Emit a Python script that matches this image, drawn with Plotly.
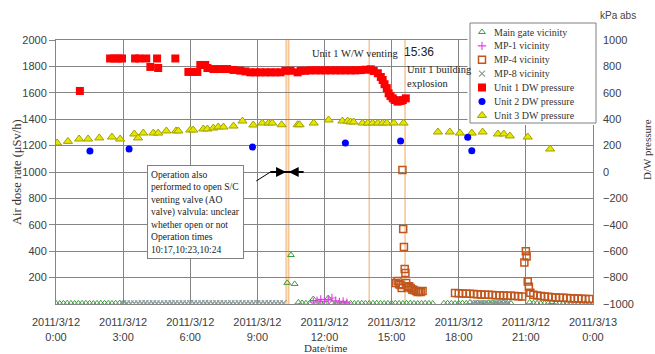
import pandas as pd
import plotly.graph_objects as go

DAY = "2011-03-12"
W, H = 655, 354


def at(hhmm):
    return f"{DAY} {hhmm}"


def every_10_min(start, values):
    return list(pd.date_range(at(start), periods=len(values), freq="10min"))


def gather(segments):
    xs, ys = [], []
    for start, vals in segments:
        xs += every_10_min(start, vals)
        ys += vals
    return xs, ys


# ---------------- air dose rate (μSv/h), left axis ----------------
MAIN_GATE_SEGMENTS = [
    ("00:00", [5, 4, 5, 6, 5, 4, 5, 5, 6, 5, 4, 5, 6, 5, 5, 4, 5, 6, 5]),
    ("10:20", [160, 371, 152, 12, 8, 6, 5, 38, 10, 6, 5, 45, 8, 5, 4, 5, 6, 5, 4, 5,
               6, 5, 4, 5, 6, 5, 4, 5, 5, 6, 5, 4, 5, 6, 5, 4, 5, 6, 5, 4]),
    ("17:20", [5, 6, 5, 4, 5, 6, 5, 12, 6, 5, 4, 5, 6, 5, 4, 5, 6, 5, 4]),
    ("21:10", [12, 6, 5, 4, 5, 6, 14, 6, 5, 4, 5, 6, 5, 4, 5, 6, 5, 4]),
]
MP1_SEGMENTS = [("11:30", [15, 25, 35, 20, 30, 45, 25, 15, 20, 10])]
MP8_SEGMENTS = [
    ("03:00", [5, 6, 5, 4, 5, 6, 7, 5, 6, 5, 4, 5, 6, 7, 6, 5, 6, 5, 7, 6, 5, 6,
               7, 6, 5, 6, 7, 6, 5, 6, 5, 7, 6, 5, 6, 7, 6, 5, 6, 7, 6, 5, 6, 7]),
    ("18:40", [6, 5, 7, 6, 5, 6, 7, 5, 6, 5]),
]
MP4_TIMES = ["15:11", "15:16", "15:20", "15:24", "15:27", "15:29", "15:31", "15:33",
             "15:35", "15:37", "15:39", "15:43", "15:47", "15:51", "15:55", "15:59",
             "16:05", "16:10", "16:14", "16:18", "16:23",
             "20:56", "21:00", "21:02", "21:05", "21:08", "21:12"]
MP4_VALUES = [159, 174, 150, 144, 121, 1015, 568, 432,
              265, 235, 159, 129, 135, 121, 110, 106,
              98, 91, 95, 91, 98,
              315, 400, 360, 170, 130, 85]
MP4_SEGMENTS = [
    ("17:50", [84, 82, 80, 78, 77, 75, 74, 72, 71, 70, 68, 67, 66, 64, 63, 62, 60, 58, 57]),
    ("21:20", [70, 64, 60, 57, 55, 52, 50, 48, 47, 45, 44, 42, 41, 40, 38, 37]),
]

# ---------------- D/W pressure (kPa abs), right axis ----------------
UNIT1_TIMES = ["01:04", "02:25", "02:36", "02:47", "02:57", "03:32", "03:43", "04:02",
               "04:13", "04:31", "04:34", "05:20", "05:55", "06:08", "06:19", "06:27",
               "06:40", "06:46", "07:02", "07:20", "07:39", "07:56", "08:14", "08:28",
               "08:41", "08:55", "09:08", "09:22", "09:35", "09:48", "10:02", "10:15",
               "10:29", "10:48", "10:56", "11:09", "11:22", "11:36", "11:49", "12:03",
               "12:16", "12:30", "12:43", "12:56", "13:10", "13:23", "13:37", "13:50",
               "14:04", "14:12", "14:23", "14:31", "14:36", "14:41", "14:47", "14:52",
               "14:57", "15:03", "15:08", "15:16", "15:24", "15:30", "15:38"]
UNIT1_VALUES = [614, 860, 860, 860, 860, 860, 860, 860,
                796, 860, 788, 860, 758, 758, 758, 811,
                811, 788, 780, 780, 780, 773, 768, 762,
                755, 755, 755, 755, 755, 755, 755, 767,
                767, 755, 767, 767, 770, 770, 770, 770,
                770, 770, 770, 770, 770, 770, 772, 775,
                778, 765, 748, 720, 697, 665, 635, 596,
                575, 558, 545, 533, 538, 545, 558]
UNIT2_TIMES = ["01:31", "03:16", "08:47", "12:56", "15:24", "18:24", "18:35"]
UNIT2_VALUES = [159, 174, 189, 220, 235, 263, 161]
UNIT3_TIMES = ["00:03", "00:32", "01:02", "01:26", "01:56", "02:30", "02:52", "03:30",
               "03:40", "03:54", "04:21", "04:34", "04:56", "05:22", "05:28", "06:00",
               "06:08", "06:35", "06:46", "07:02", "07:15", "07:29", "07:56", "08:20",
               "08:49", "09:13", "09:30", "09:40", "10:05", "10:48", "10:53", "11:31",
               "12:11", "12:48", "13:02", "13:10", "13:18", "13:42", "13:56", "14:09",
               "14:23", "14:36", "14:47", "15:06", "15:32", "17:04", "17:36", "18:03",
               "18:35", "19:04", "19:45", "20:01", "20:17", "21:05", "22:05"]
UNIT3_VALUES = [220, 232, 250, 250, 258, 265, 250, 288,
                258, 295, 295, 295, 311, 311, 311, 318,
                318, 326, 326, 333, 341, 341, 348, 386,
                356, 371, 371, 371, 358, 358, 358, 371,
                394, 386, 386, 379, 379, 371, 371, 371,
                371, 371, 371, 371, 371, 303, 303, 295,
                295, 303, 288, 288, 273, 265, 174]

# event times (vertical markers)
EVENT_TIMES = ["10:17", "10:23", "10:24", "14:00", "15:36"]

X_TICK_HOURS = [0, 3, 6, 9, 12, 15, 18, 21, 24]
DOSE_TICKS = [200, 400, 600, 800, 1000, 1200, 1400, 1600, 1800, 2000]
PRESSURE_TICKS = [-1000, -800, -600, -400, -200, 0, 200, 400, 600, 800, 1000]

SERIF = "Liberation Serif, DejaVu Serif, serif"
SANS = "Liberation Sans, Arial, sans-serif"
GRID = "#858585"


def px(x):
    return x / W


def py(y):
    return 1 - y / H


STYLES = {
    "Main gate vicinity": dict(symbol="triangle-up-open", size=6, color="#3c9c3c", line=dict(width=1, color="#3c9c3c")),
    "MP-1 vicinity": dict(symbol="cross-thin", size=6, color="#e040e0", line=dict(width=1.1, color="#e040e0")),
    "MP-4 vicinity": dict(symbol="square-open", size=7, color="#c0561c", line=dict(width=1.5, color="#c0561c")),
    "MP-8 vicinity": dict(symbol="x-thin", size=6, color="#8c9a9a", line=dict(width=1.2, color="#8c9a9a")),
    "Unit 1 DW pressure": dict(symbol="square", size=8, color="#ff0000"),
    "Unit 2 DW pressure": dict(symbol="circle", size=7, color="#0000ff"),
    "Unit 3 DW pressure": dict(symbol="triangle-up", size=8, color="#e6e600", line=dict(width=1, color="#a0a000")),
}

fig = go.Figure()


def add(name, xs, ys, yaxis="y"):
    fig.add_trace(go.Scatter(x=xs, y=ys, mode="markers", name=name, yaxis=yaxis,
                             marker=STYLES[name], hoverinfo="skip", cliponaxis=True))


mg_x, mg_y = gather(MAIN_GATE_SEGMENTS)
add("Main gate vicinity", mg_x, mg_y)
mp8_x, mp8_y = gather(MP8_SEGMENTS)
add("MP-8 vicinity", mp8_x, mp8_y)
mp1_x, mp1_y = gather(MP1_SEGMENTS)
add("MP-1 vicinity", mp1_x, mp1_y)
mp4_x, mp4_y = gather(MP4_SEGMENTS)
add("MP-4 vicinity", [at(t) for t in MP4_TIMES] + mp4_x, MP4_VALUES + mp4_y)

add("Unit 3 DW pressure", [at(t) for t in UNIT3_TIMES], UNIT3_VALUES, "y2")
add("Unit 2 DW pressure", [at(t) for t in UNIT2_TIMES], UNIT2_VALUES, "y2")
add("Unit 1 DW pressure", [at(t) for t in UNIT1_TIMES], UNIT1_VALUES, "y2")


def note(x, y, text, font, angle=0, xanchor="center", **kw):
    fig.add_annotation(x=px(x), y=py(y), xref="paper", yref="paper", text=text,
                       showarrow=False, xanchor=xanchor, yanchor="middle", textangle=angle,
                       font=font, **kw)


# ---- legend drawn in its own small subplot so it sits above the data ----
LEG_L, LEG_R, LEG_T, LEG_B = 470, 596, 23, 123
LEG_ROWS = list(STYLES.keys())
fig.add_trace(go.Scatter(x=[0, 1, 1, 0, 0], y=[0, 0, 1, 1, 0], mode="lines", fill="toself",
                         fillcolor="white", line=dict(color="#808080", width=1),
                         xaxis="x3", yaxis="y3", hoverinfo="skip"))
for i, name in enumerate(LEG_ROWS):
    row_y = 32 + 13.9 * i
    fig.add_trace(go.Scatter(x=[(482 - LEG_L) / (LEG_R - LEG_L)],
                             y=[(LEG_B - row_y) / (LEG_B - LEG_T)],
                             mode="markers", marker=STYLES[name], xaxis="x3", yaxis="y3",
                             hoverinfo="skip"))
    note(492, row_y, name, dict(family=SERIF, size=10, color="#333333"), xanchor="left")

# event lines
for t in EVENT_TIMES:
    fig.add_shape(type="line", xref="x", yref="paper", x0=at(t), x1=at(t),
                  y0=py(304), y1=py(40), line=dict(color="#f6c592", width=1.5), layer="below")

# callout: valve operation
fig.add_annotation(x=px(147), y=py(165), xref="paper", yref="paper", xanchor="left", yanchor="top",
                   text=("Operation also<br>performed to open S/C<br>venting valve (AO<br>"
                         "valve) valvula: unclear<br>whether open or not<br>"
                         "Operation times<br>10:17,10:23,10:24"),
                   align="left", showarrow=False, bgcolor="white", bordercolor="#808080",
                   borderwidth=1, borderpad=3, font=dict(family=SERIF, size=9.6, color="#222222"))
fig.add_shape(type="line", xref="x", yref="y", x0=at("08:57"), y0=932, x1=at("09:35"), y1=1000,
              line=dict(color="black", width=1))
fig.add_shape(type="line", xref="x", yref="y", x0=at("09:35"), y0=1000, x1=at("11:04"), y1=1000,
              line=dict(color="black", width=2))
for head, shift in (("10:17", -17), ("10:24", 14)):
    fig.add_annotation(x=at(head), y=1000, xref="x", yref="y", text="", showarrow=True,
                       ax=shift, ay=0, arrowhead=2, arrowsize=1, arrowwidth=2,
                       arrowcolor="black", standoff=0)

# event labels
note(310, 53, "Unit 1 W/W venting", dict(family=SERIF, size=10.5, color="#222222"), xanchor="left")
note(402, 52, "15:36", dict(family=SANS, size=12, color="#222222"), xanchor="left")
note(405, 76, "Unit 1 building<br>explosion", dict(family=SERIF, size=10.5, color="#222222"),
     xanchor="left", align="left")

# axis titles
note(17, 172, "Air dose rate (μSv/h)", dict(family=SERIF, size=12.5, color="#333333"), angle=-90)
note(647, 150, "D/W pressure", dict(family=SERIF, size=11, color="#333333"), angle=-90)
note(325, 348, "Date/time", dict(family=SERIF, size=11, color="#333333"))
note(618, 15, "kPa abs", dict(family=SANS, size=10, color="#444444"))

tick_vals = [pd.Timestamp(DAY) + pd.Timedelta(hours=h) for h in X_TICK_HOURS]
tick_text = [f"{t.year}/{t.month}/{t.day}<br>{t.hour}:00" for t in tick_vals]

fig.update_layout(
    width=W, height=H, margin=dict(l=0, r=0, t=0, b=0, autoexpand=False),
    paper_bgcolor="white", plot_bgcolor="white", showlegend=False,
    xaxis=dict(type="date", domain=[px(56), px(593)], range=[tick_vals[0], tick_vals[-1]],
               tickvals=tick_vals, ticktext=tick_text, showgrid=True, gridcolor=GRID, gridwidth=1,
               showline=True, mirror=True, linecolor=GRID, linewidth=1, zeroline=False,
               ticks="", ticklabelstandoff=8, automargin=False,
               tickfont=dict(family=SANS, size=11, color="#404040"), anchor="y"),
    yaxis=dict(domain=[py(304), py(40)], range=[0, 2000], tickvals=DOSE_TICKS,
               showgrid=True, gridcolor=GRID, gridwidth=1, showline=True, mirror=True,
               linecolor=GRID, linewidth=1, zeroline=False, ticks="outside", ticklen=6,
               tickcolor=GRID, automargin=False,
               tickfont=dict(family=SANS, size=11, color="#404040"), anchor="x"),
    yaxis2=dict(overlaying="y", side="right", range=[-1000, 1000], tickvals=PRESSURE_TICKS,
                showgrid=False, zeroline=False, showline=False, ticks="", ticklabelstandoff=9,
                automargin=False,
                tickfont=dict(family=SANS, size=11, color="#404040"), anchor="x"),
    xaxis3=dict(domain=[px(LEG_L - 2.52), px(LEG_R + 2.52)], range=[-0.02, 1.02],
                visible=False, anchor="y3", fixedrange=True, automargin=False),
    yaxis3=dict(domain=[py(LEG_B + 2), py(LEG_T - 2)], range=[-0.02, 1.02],
                visible=False, anchor="x3", fixedrange=True, automargin=False),
)

fig.write_html("out.html")
